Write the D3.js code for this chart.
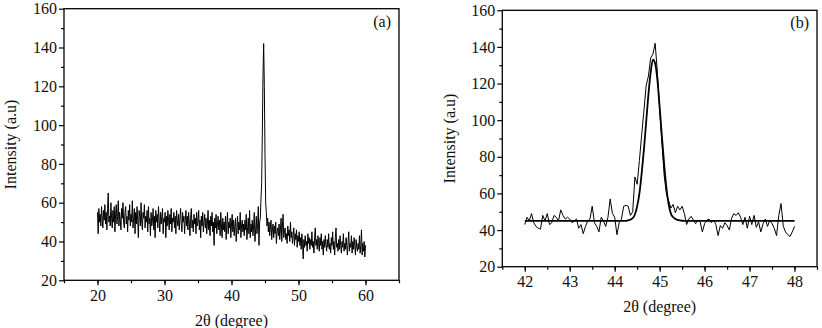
<!DOCTYPE html>
<head>
  <meta charset="utf-8">
  <title>XRD</title>
  <script src="https://d3js.org/d3.v7.min.js"></script>
  <style>
    body { margin: 0; background: #fff; }
    svg { display: block; background: #fff; }
    text { font-family: "Liberation Serif", "Times New Roman", serif; font-size: 16px; fill: #111; }
    .frame { fill: none; stroke: #000; stroke-width: 1.3px; }
    .tick line { stroke: #000; stroke-width: 1.2px; }
    .data { fill: none; stroke: #000; stroke-width: 1px; stroke-linejoin: round; }
    .fit { fill: none; stroke: #000; stroke-width: 1.8px; }
  </style>
</head>

<body>
  <script>
    // panel (a): full scan, 20..60 deg, step 0.1
    var startA = 20, stepA = 0.1;
    var intensityA = [
      55, 44, 57, 50, 54, 48, 58, 52, 47, 56,
      51, 59, 49, 55, 46, 57, 65, 50, 53, 48,
      60, 52, 47, 56, 50, 58, 45, 54, 59, 49,
      53, 61, 48, 55, 51, 46, 57, 52, 60, 50,
      47, 55, 58, 49, 53, 45, 56, 51, 59, 48,
      54, 50, 61, 47, 52, 57, 44, 55, 49, 58,
      51, 42, 56, 53, 48, 60, 50, 46, 55, 52,
      59, 47, 53, 50, 56, 45, 58, 49, 52, 43,
      55, 48, 51, 57, 46, 53, 42, 56, 50, 54,
      47, 58, 51, 45, 55, 49, 53, 57, 44, 52,
      50, 55, 42, 53, 48, 56, 51, 46, 54, 49,
      57, 45, 52, 50, 55, 47, 53, 44, 56, 51,
      48, 54, 46, 52, 57, 49, 45, 55, 50, 53,
      44, 51, 56, 48, 53, 46, 55, 50, 43, 52,
      57, 47, 51, 45, 54, 49, 52, 44, 55, 48,
      50, 56, 46, 51, 42, 53, 48, 55, 45, 50,
      54, 47, 52, 44, 49, 56, 46, 51, 43, 53,
      48, 55, 45, 50, 38, 52, 47, 54, 44, 49,
      53, 46, 51, 43, 55, 48, 42, 52, 46, 50,
      45, 53, 41, 49, 55, 44, 50, 47, 52, 42,
      49, 54, 45, 51, 43, 48, 52, 40, 47, 53,
      44, 50, 46, 55, 42, 48, 51, 45, 49, 43,
      51, 46, 54, 41, 47, 52, 44, 56, 42, 49,
      45, 51, 43, 48, 55, 40, 46, 53, 44, 48,
      58, 38, 50, 52, 62, 70, 95, 125, 142, 120,
      85, 60, 55, 48, 52, 45, 50, 43, 47, 51,
      41, 46, 49, 42, 48, 44, 50, 39, 45, 47,
      43, 49, 41, 46, 52, 40, 48, 54, 42, 45,
      47, 41, 44, 39, 48, 43, 46, 40, 50, 42,
      45, 39, 43, 47, 38, 44, 41, 46, 37, 43,
      40, 45, 38, 42, 36, 44, 39, 31, 41, 37,
      43, 38, 40, 35, 44, 39, 42, 36, 41, 38,
      45, 37, 40, 34, 42, 47, 38, 41, 36, 43,
      39, 35, 42, 38, 44, 36, 40, 33, 41, 37,
      43, 38, 35, 41, 37, 44, 36, 39, 34, 42,
      38, 45, 36, 40, 33, 42, 47, 37, 39, 35,
      41, 36, 43, 38, 34, 40, 37, 44, 35, 39,
      36, 42, 38, 33, 40, 45, 35, 39, 37, 43,
      34, 40, 36, 42, 38, 33, 41, 37, 35, 39,
      36, 43, 34, 38, 46, 33, 39, 35, 40, 32,
      38
    ];

    // panel (b): zoom on the peak, 42..48 deg, step 0.05
    var startB = 42, stepB = 0.05;
    var intensityB = [
      43, 47, 45, 49, 44, 42, 41, 40.5, 48, 45,
      49, 43, 44, 48, 47, 45, 51, 48, 46, 47,
      46, 44, 45, 46, 41, 43, 38, 42, 45, 46,
      53, 44, 42, 39, 47, 45, 42, 47, 57, 49,
      47, 37.5, 44, 46, 53, 53.5, 53, 48, 50, 69,
      65, 78, 92, 105, 119, 124, 134, 136, 142, 126,
      106, 88, 70, 60, 56, 52, 54, 49.5, 53, 51,
      53, 49, 43, 46, 47.5, 45.5, 43.5, 45.5, 44.5, 39,
      43.5, 45.5, 46, 44, 45.5, 43, 37, 42.5, 41, 44,
      42.5, 40, 46.5, 49, 48, 49.5, 47, 43, 47, 41,
      47.5, 43, 48, 41.5, 44.5, 39, 43.5, 46, 42, 45.5,
      43.5, 41, 37, 48, 54.5, 42, 39, 37.5, 36.5, 39,
      42
    ];

    // fitted profile
    var fitAngle = [42, 44.2, 44.3, 44.4, 44.45, 44.5, 44.55, 44.6, 44.65, 44.7, 44.75, 44.8, 44.85,
                    44.9, 44.95, 45.0, 45.05, 45.1, 45.15, 45.2, 45.25, 45.3, 45.4, 45.5, 45.6, 48];
    var fitIntensity = [45, 45, 45.3, 46.5, 48.5, 53, 60, 71, 84, 99, 114, 126, 133,
                        131, 122, 107, 91, 76, 63, 54, 49, 47, 45.6, 45.1, 45, 45];

    var ticksA = [20, 30, 40, 50, 60];
    var ticksB = [42, 43, 44, 45, 46, 47, 48];
    var ticksY = [20, 40, 60, 80, 100, 120, 140, 160];

    var width = 822, height = 328;
    var svg = d3.select("body").append("svg")
      .attr("width", width)
      .attr("height", height);

    function drawPanel(cfg) {
      var x = d3.scaleLinear().domain(cfg.xDomain).range([cfg.left, cfg.right]);
      var y = d3.scaleLinear().domain([20, 160]).range([cfg.bottom, cfg.top]);
      var g = svg.append("g");

      // minor ticks first
      g.append("g")
        .attr("transform", "translate(0," + cfg.bottom + ")")
        .call(d3.axisBottom(x).tickValues(d3.range(cfg.xDomain[0], cfg.xDomain[1] + 1e-6, cfg.minorStep)).tickSize(3).tickFormat(""))
        .call(a => a.select(".domain").remove());
      g.append("g")
        .attr("transform", "translate(" + cfg.left + ",0)")
        .call(d3.axisLeft(y).tickValues(d3.range(30, 160, 20)).tickSize(3).tickFormat(""))
        .call(a => a.select(".domain").remove());

      var xAxis = g.append("g")
        .attr("transform", "translate(0," + cfg.bottom + ")")
        .call(d3.axisBottom(x).tickValues(cfg.ticks).tickSize(5).tickPadding(cfg.xPad).tickFormat(d3.format("d")));
      xAxis.select(".domain").remove();

      var yAxis = g.append("g")
        .attr("transform", "translate(" + cfg.left + ",0)")
        .call(d3.axisLeft(y).tickValues(ticksY).tickSize(5).tickPadding(2));
      yAxis.select(".domain").remove();

      g.selectAll(".tick text").style("font-size", "16px").attr("fill", "#111");

      g.append("rect")
        .attr("class", "frame")
        .attr("x", cfg.left)
        .attr("y", cfg.top)
        .attr("width", cfg.right - cfg.left)
        .attr("height", cfg.bottom - cfg.top);

      var line = d3.line()
        .x((d, i) => x(cfg.start + i * cfg.step))
        .y(d => y(d));

      g.append("path")
        .datum(cfg.values)
        .attr("class", "data")
        .attr("d", line);

      if (cfg.fitX) {
        var fitLine = d3.line()
          .x(d => x(d[0]))
          .y(d => y(d[1]))
          .curve(d3.curveMonotoneX);
        g.append("path")
          .datum(cfg.fitX.map((v, i) => [v, cfg.fitY[i]]))
          .attr("class", "fit")
          .attr("d", fitLine);
      }

      g.append("text")
        .attr("x", cfg.right - 8)
        .attr("y", cfg.top + 18)
        .attr("text-anchor", "end")
        .text(cfg.tag);

      g.append("text")
        .attr("transform", "translate(" + cfg.yLabelX + "," + ((cfg.top + cfg.bottom) / 2) + ") rotate(-90)")
        .attr("text-anchor", "middle")
        .attr("dy", "0.35em")
        .text("Intensity (a.u)");

      g.append("text")
        .attr("x", (cfg.left + cfg.right) / 2)
        .attr("y", cfg.xLabelY)
        .attr("text-anchor", "middle")
        .text("2\u03b8 (degree)");
    }

    drawPanel({
      left: 64, right: 399, top: 8.7, bottom: 280.3,
      xDomain: [15, 65], minorStep: 5, ticks: ticksA, xPad: 4,
      start: startA, step: stepA, values: intensityA,
      tag: "(a)", yLabelX: 10, xLabelY: 326
    });

    drawPanel({
      left: 502.3, right: 817, top: 10.3, bottom: 266.7,
      xDomain: [41.5, 48.5], minorStep: 0.5, ticks: ticksB, xPad: 4,
      start: startB, step: stepB, values: intensityB,
      fitX: fitAngle, fitY: fitIntensity,
      tag: "(b)", yLabelX: 449, xLabelY: 312
    });
  </script>
</body>
